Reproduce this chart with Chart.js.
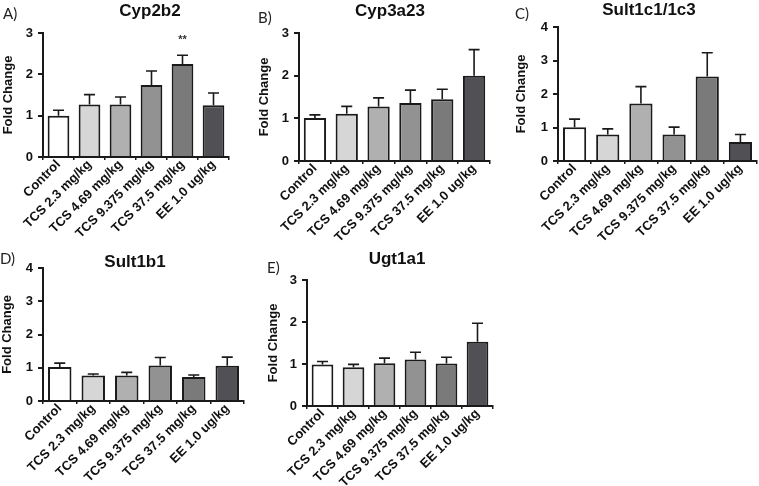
<!DOCTYPE html>
<html>
<head>
<meta charset="utf-8">
<script src="https://cdn.jsdelivr.net/npm/chart.js@4"></script>
<style>
body { margin: 0; background: #fff; width: 759px; height: 486px; position: relative; overflow: hidden; font-family: "Liberation Sans", Arial, sans-serif; }
canvas { position: absolute; }
.ttl { position: absolute; font-weight: bold; font-size: 17px; transform: translate(-50%, -50%); white-space: nowrap; color: #111; }
.lbl { position: absolute; font-family: Lato, sans-serif; font-size: 15px; color: #222; transform: translateY(-50%); }
</style>
</head>
<body>
<canvas id="cA" width="240" height="245" style="left:0;top:0"></canvas>
<canvas id="cB" width="250" height="245" style="left:250px;top:0"></canvas>
<canvas id="cC" width="259" height="245" style="left:500px;top:0"></canvas>
<canvas id="cD" width="250" height="246" style="left:0;top:240px"></canvas>
<canvas id="cE" width="250" height="246" style="left:250px;top:240px"></canvas>

<div class="lbl" style="left:3px;top:13px">A)</div>
<div class="lbl" style="left:258px;top:17px">B)</div>
<div class="lbl" style="left:515px;top:13px">C)</div>
<div class="lbl" style="left:0px;top:258px">D)</div>
<div class="lbl" style="left:267px;top:267px">E)</div>

<div class="ttl" style="left:150px;top:11px">Cyp2b2</div>
<div class="ttl" style="left:390px;top:11px">Cyp3a23</div>
<div class="ttl" style="left:649px;top:10px">Sult1c1/1c3</div>
<div class="ttl" style="left:135px;top:262px">Sult1b1</div>
<div class="ttl" style="left:397px;top:259px">Ugt1a1</div>

<script>
// groups on the x axis
const categories = ['Control', 'TCS 2.3 mg/kg', 'TCS 4.69 mg/kg', 'TCS 9.375 mg/kg', 'TCS 37.5 mg/kg', 'EE 1.0 ug/kg'];
const barColors = ['#ffffff', '#d6d6d6', '#b0b0b0', '#929292', '#7a7a7a', '#505055'];

// mean fold change and error (upper bar only)
const cyp2b2Mean = [1.00, 1.27, 1.27, 1.74, 2.25, 1.25];
const cyp2b2Err = [0.13, 0.24, 0.18, 0.34, 0.21, 0.30];
const cyp2b2Sig = ['', '', '', '', '**', ''];

const cyp3a23Mean = [1.01, 1.11, 1.28, 1.36, 1.45, 2.00];
const cyp3a23Err = [0.07, 0.17, 0.20, 0.30, 0.23, 0.61];

const sult1cMean = [1.01, 0.79, 1.72, 0.79, 2.52, 0.57];
const sult1cErr = [0.24, 0.17, 0.50, 0.22, 0.71, 0.22];

const sult1b1Mean = [1.02, 0.77, 0.77, 1.07, 0.72, 1.06];
const sult1b1Err = [0.12, 0.04, 0.09, 0.24, 0.06, 0.26];

const ugt1a1Mean = [0.99, 0.92, 1.02, 1.11, 1.01, 1.53];
const ugt1a1Err = [0.07, 0.07, 0.12, 0.17, 0.15, 0.44];

// y axis ticks
const ticks3 = [0, 1, 2, 3];
const ticks4 = [0, 1, 2, 3, 4];

// draws the error bars and significance stars
const errorBars = {
    id: 'errorBars',
    afterDatasetsDraw(chart, args, opts) {
        let ctx = chart.ctx;
        let meta = chart.getDatasetMeta(0);
        let y = chart.scales.y;
        ctx.save();
        ctx.strokeStyle = '#1a1a1a';
        ctx.lineWidth = 1.6;
        meta.data.forEach((bar, i) => {
            let top = y.getPixelForValue(opts.mean[i] + opts.err[i]);
            let base = y.getPixelForValue(opts.mean[i]);
            ctx.beginPath();
            ctx.moveTo(bar.x, base);
            ctx.lineTo(bar.x, top);
            ctx.moveTo(bar.x - 5.5, top);
            ctx.lineTo(bar.x + 5.5, top);
            ctx.stroke();
            if (opts.sig && opts.sig[i]) {
                ctx.fillStyle = '#333';
                ctx.font = 'bold 11px "Liberation Sans", Arial';
                ctx.textAlign = 'center';
                ctx.fillText(opts.sig[i], bar.x, top - 12);
            }
        });
        ctx.restore();
    }
};

function makePanel(id, mean, err, sig, tickVals, area, titlePad) {
    let cv = document.getElementById(id);
    let W = cv.width, H = cv.height;
    return new Chart(cv, {
        type: 'bar',
        data: {
            labels: categories,
            datasets: [{
                data: mean,
                backgroundColor: barColors,
                borderColor: '#1a1a1a',
                borderWidth: 2,
                barPercentage: 0.7,
                categoryPercentage: 1.0
            }]
        },
        options: {
            responsive: false,
            animation: false,
            devicePixelRatio: 1,
            layout: { padding: { left: 0, top: area.top, right: W - area.right, bottom: 0 } },
            plugins: {
                legend: { display: false },
                tooltip: { enabled: false },
                errorBars: { mean: mean, err: err, sig: sig }
            },
            scales: {
                x: {
                    afterFit: s => { s.height = H - area.bottom; },
                    grid: { display: true, drawOnChartArea: false, drawTicks: true, tickLength: 3, color: '#1a1a1a', lineWidth: 1.5 },
                    border: { color: '#1a1a1a', width: 2 },
                    ticks: {
                        autoSkip: false, minRotation: 45, maxRotation: 45, padding: -3,
                        color: '#111', font: { family: '"Liberation Sans", Arial', size: 13, weight: 'bold' }
                    }
                },
                y: {
                    min: 0,
                    max: tickVals[tickVals.length - 1],
                    afterFit: s => { s.width = area.left; },
                    afterBuildTicks: s => { s.ticks = tickVals.map(v => ({ value: v })); },
                    grid: { display: true, drawOnChartArea: false, drawTicks: true, tickLength: 5, color: '#1a1a1a', lineWidth: 2 },
                    border: { color: '#1a1a1a', width: 2 },
                    ticks: {
                        padding: 5, color: '#111',
                        font: { family: '"Liberation Sans", Arial', size: 13, weight: 'bold' }
                    },
                    title: {
                        display: true, text: 'Fold Change', color: '#111',
                        padding: { top: titlePad, bottom: 0 },
                        font: { family: '"Liberation Sans", Arial', size: 13, weight: 'bold' }
                    }
                }
            }
        },
        plugins: [errorBars]
    });
}

makePanel('cA', cyp2b2Mean, cyp2b2Err, cyp2b2Sig, ticks3, { left: 43, right: 229, top: 33, bottom: 157 }, 1);
makePanel('cB', cyp3a23Mean, cyp3a23Err, null, ticks3, { left: 49, right: 240, top: 33, bottom: 161 }, 7);
makePanel('cC', sult1cMean, sult1cErr, null, ticks4, { left: 58, right: 257, top: 27, bottom: 161 }, 14);
makePanel('cD', sult1b1Mean, sult1b1Err, null, ticks4, { left: 43, right: 244, top: 28, bottom: 161 }, 0);
makePanel('cE', ugt1a1Mean, ugt1a1Err, null, ticks3, { left: 57, right: 243, top: 40, bottom: 166 }, 16);
</script>
</body>
</html>
